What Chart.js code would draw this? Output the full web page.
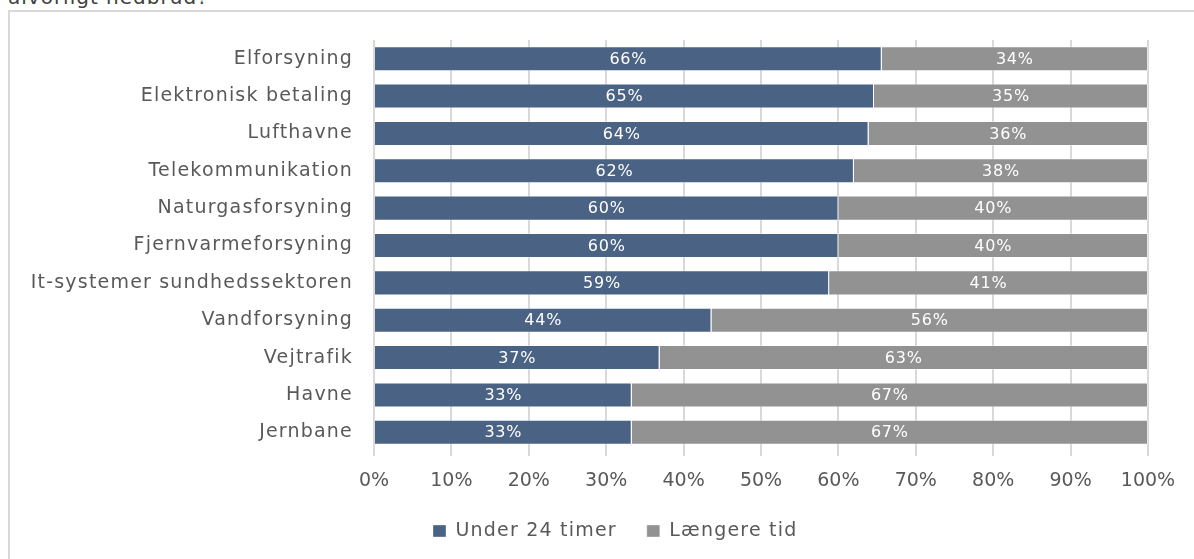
<!DOCTYPE html>
<html>
<head>
<meta charset="utf-8">
<script src="https://cdn.jsdelivr.net/npm/chart.js@4"></script>
<style>
  html, body { margin: 0; padding: 0; background: #fff; overflow: hidden; width: 1194px; height: 559px; }
  #frame { position: absolute; left: 8px; top: 10px; width: 1400px; height: 800px; border: 2px solid #d9d9d9; box-sizing: border-box; }
  #title { position: absolute; left: 8px; top: -15px; font-family: "DejaVu Sans", sans-serif; font-size: 20px; letter-spacing: 1px; color: #404040; white-space: nowrap; }
  #wrap { position: absolute; left: 0; top: 0; width: 1222px; height: 559px; }
</style>
</head>
<body>
<div id="title">alvorligt nedbrud?</div>
<div id="frame"></div>
<div id="wrap"><canvas id="c" width="1222" height="559"></canvas></div>
<script>
const categories = ["Elforsyning", "Elektronisk betaling", "Lufthavne", "Telekommunikation", "Naturgasforsyning", "Fjernvarmeforsyning", "It-systemer sundhedssektoren", "Vandforsyning", "Vejtrafik", "Havne", "Jernbane"];
const under24 = [65.6, 64.6, 63.9, 62.0, 60.0, 60.0, 58.8, 43.6, 36.9, 33.3, 33.3];
const longer = [34.4, 35.4, 36.1, 38.0, 40.0, 40.0, 41.2, 56.4, 63.1, 66.7, 66.7];
const seriesNames = ["Under 24 timer", "Længere tid"];
const xTicks = [0, 10, 20, 30, 40, 50, 60, 70, 80, 90, 100];

const FONT = "DejaVu Sans";
const TXT = "#595959";
const SPACING = "1.2px";
const LEGEND_GAP = 30;
const LEGEND_START = 433;
const LEGEND_TOP = 491.5;

const spacingPlugin = {
  id: "spacing",
  beforeInit(chart) { chart.ctx.letterSpacing = SPACING; },
  beforeUpdate(chart) { chart.ctx.letterSpacing = SPACING; },
  beforeLayout(chart) {
    const lg = chart.legend;
    if (lg && !lg._patched) {
      const origFit = lg.fit.bind(lg);
      lg.fit = function () { origFit(); this.height -= (LEGEND_GAP - 14); };
      lg._patched = true;
    }
  },
  afterLayout(chart) {
    const lg = chart.legend;
    if (lg) {
      const h = lg.height + (LEGEND_GAP - 14);
      lg.top = LEGEND_TOP;
      lg.bottom = LEGEND_TOP + h;
      lg.height = h;
      const pad = lg.options.labels.padding;
      lg.left = 2 * LEGEND_START - pad - lg.right + lg.lineWidths[0];
      lg.width = lg.right - lg.left;
    }
  },
  beforeDraw(chart) {
    chart.ctx.letterSpacing = SPACING;
    const xs = chart.scales.x;
    if (xs && !xs._patched) {
      const orig = xs.drawLabels.bind(xs);
      xs.drawLabels = function (area) {
        const ctx = chart.ctx;
        ctx.letterSpacing = "0px";
        orig(area);
        ctx.letterSpacing = SPACING;
      };
      xs._patched = true;
    }
  }
};

const labelPlugin = {
  id: "barLabels",
  afterDatasetsDraw(chart) {
    const ctx = chart.ctx;
    ctx.save();
    ctx.letterSpacing = "0.8px";
    ctx.font = "16px '" + FONT + "'";
    ctx.fillStyle = "#ffffff";
    ctx.textAlign = "center";
    ctx.textBaseline = "middle";
    chart.data.datasets.forEach((ds, di) => {
      const meta = chart.getDatasetMeta(di);
      meta.data.forEach((bar, i) => {
        const cx = (bar.x + bar.base) / 2;
        ctx.fillText(Math.round(ds.data[i]) + "%", cx, bar.y + 1);
      });
    });
    ctx.restore();
  }
};

new Chart(document.getElementById("c"), {
  type: "bar",
  data: {
    labels: categories,
    datasets: [
      { label: seriesNames[0], data: under24, backgroundColor: "#4a6283", borderColor: "rgba(255,255,255,0.35)", borderWidth: 1, categoryPercentage: 0.67, barPercentage: 1 },
      { label: seriesNames[1], data: longer, backgroundColor: "#929292", borderColor: "rgba(255,255,255,0.35)", borderWidth: 1, categoryPercentage: 0.67, barPercentage: 1 }
    ]
  },
  options: {
    indexAxis: "y",
    responsive: false,
    animation: false,
    layout: { padding: { top: 40, right: 74, bottom: 25, left: 0 } },
    scales: {
      x: {
        stacked: true,
        min: 0, max: 100,
        afterBuildTicks(scale) { scale.ticks = xTicks.map(v => ({ value: v })); },
        afterFit(scale) { scale.height = 40; },
        grid: { color: "#d9d9d9", lineWidth: 2, drawTicks: true, tickLength: 5 },
        border: { display: false },
        ticks: { padding: 14, color: TXT, font: { family: FONT, size: 19 }, callback: v => v + "%" }
      },
      y: {
        stacked: true,
        afterFit(scale) { scale.width = 374; },
        grid: { display: false, drawTicks: false },
        border: { display: false },
        ticks: { padding: 21, color: TXT, font: { family: FONT, size: 19 } }
      }
    },
    plugins: {
      legend: {
        position: "bottom",
        labels: { boxWidth: 13, boxHeight: 12, padding: LEGEND_GAP, color: TXT, font: { family: FONT, size: 19 } }
      },
      tooltip: { enabled: false }
    }
  },
  plugins: [spacingPlugin, labelPlugin]
});
</script>
</body>
</html>
